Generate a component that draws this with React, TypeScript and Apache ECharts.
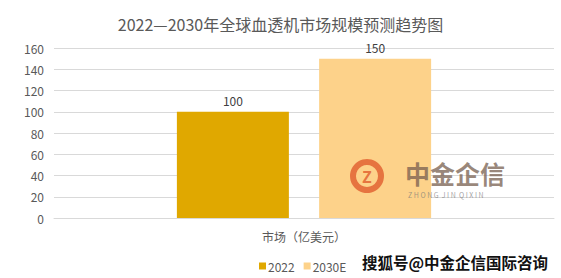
import React, { useEffect, useRef } from "react";
import * as echarts from "echarts";

const categories = ["市场（亿美元）"];
const seriesNames = ["2022", "2030E"];
const values2022 = [100];
const values2030 = [150];
const yTicks = { min: 0, max: 160, interval: 20 };

export default function App() {
  const ref = useRef<HTMLDivElement>(null);
  useEffect(() => {
    if (!ref.current) return;
    const chart = echarts.init(ref.current, null, { renderer: "svg" });
    const font = "'Microsoft YaHei', 'Noto Sans CJK SC', sans-serif";
    chart.setOption({
      animation: false,
      backgroundColor: "#ffffff",
      title: {
        text: "2022—2030年全球血透机市场规模预测趋势图",
        left: "center",
        top: 11,
        textStyle: { color: "#595959", fontSize: 16, fontWeight: "normal", fontFamily: font },
      },
      legend: {
        data: seriesNames,
        left: 254,
        top: 255,
        itemWidth: 7,
        itemHeight: 7,
        itemGap: 9,
        icon: "rect",
        textStyle: { color: "#595959", fontSize: 12, fontFamily: font, padding: [0, 0, 0, -3] },
      },
      grid: { left: 54, right: 7, top: 48, bottom: 60 },
      xAxis: {
        type: "category",
        data: categories,
        axisLine: { lineStyle: { color: "#d9d9d9" } },
        axisTick: { show: false },
        axisLabel: { color: "#595959", fontSize: 12, margin: 12, fontFamily: font },
      },
      yAxis: {
        type: "value",
        min: yTicks.min,
        max: yTicks.max,
        interval: yTicks.interval,
        axisLine: { show: false },
        axisTick: { show: false },
        axisLabel: { color: "#595959", fontSize: 12, margin: 10, fontFamily: font },
        splitLine: { lineStyle: { color: "#d9d9d9" } },
      },
      series: [
        {
          name: seriesNames[0],
          type: "bar",
          data: values2022,
          barWidth: 112,
          barGap: "27%",
          itemStyle: { color: "#E0A800" },
          label: { show: true, position: "top", color: "#404040", fontSize: 12, fontFamily: font },
        },
        {
          name: seriesNames[1],
          type: "bar",
          data: values2030,
          barWidth: 112,
          itemStyle: { color: "#FDD28A" },
          label: { show: true, position: "top", color: "#404040", fontSize: 12, fontFamily: font },
        },
      ],
      graphic: [
        {
          type: "ring",
          z: 100,
          shape: { cx: 367, cy: 176, r: 17, r0: 11 },
          style: { fill: "rgba(226,100,50,0.85)" },
        },
        {
          type: "text",
          z: 100,
          x: 367,
          y: 176,
          style: {
            text: "Z",
            fill: "rgba(226,100,50,0.85)",
            fontSize: 16,
            fontWeight: "bold",
            fontFamily: font,
            align: "center",
            verticalAlign: "middle",
          },
        },
        {
          type: "text",
          z: 100,
          x: 405,
          y: 173,
          style: {
            text: "中金企信",
            fill: "rgba(120,95,80,0.75)",
            fontSize: 25,
            fontWeight: "bold",
            fontFamily: font,
            verticalAlign: "middle",
          },
        },
        {
          type: "text",
          z: 100,
          x: 408,
          y: 195,
          style: {
            text: "Z H O N G  J I N  Q I X I N",
            fill: "rgba(120,120,120,0.7)",
            fontSize: 7,
            fontFamily: font,
            verticalAlign: "middle",
          },
        },
        {
          type: "text",
          z: 100,
          x: 362,
          y: 262,
          style: {
            text: "搜狐号@中金企信国际咨询",
            fill: "#111111",
            fontSize: 15.5,
            fontWeight: "bold",
            fontFamily: font,
            verticalAlign: "middle",
          },
        },
      ],
    });
    return () => chart.dispose();
  }, []);
  return <div ref={ref} style={{ width: 561, height: 278, position: "absolute", left: 0, top: 0 }} />;
}
